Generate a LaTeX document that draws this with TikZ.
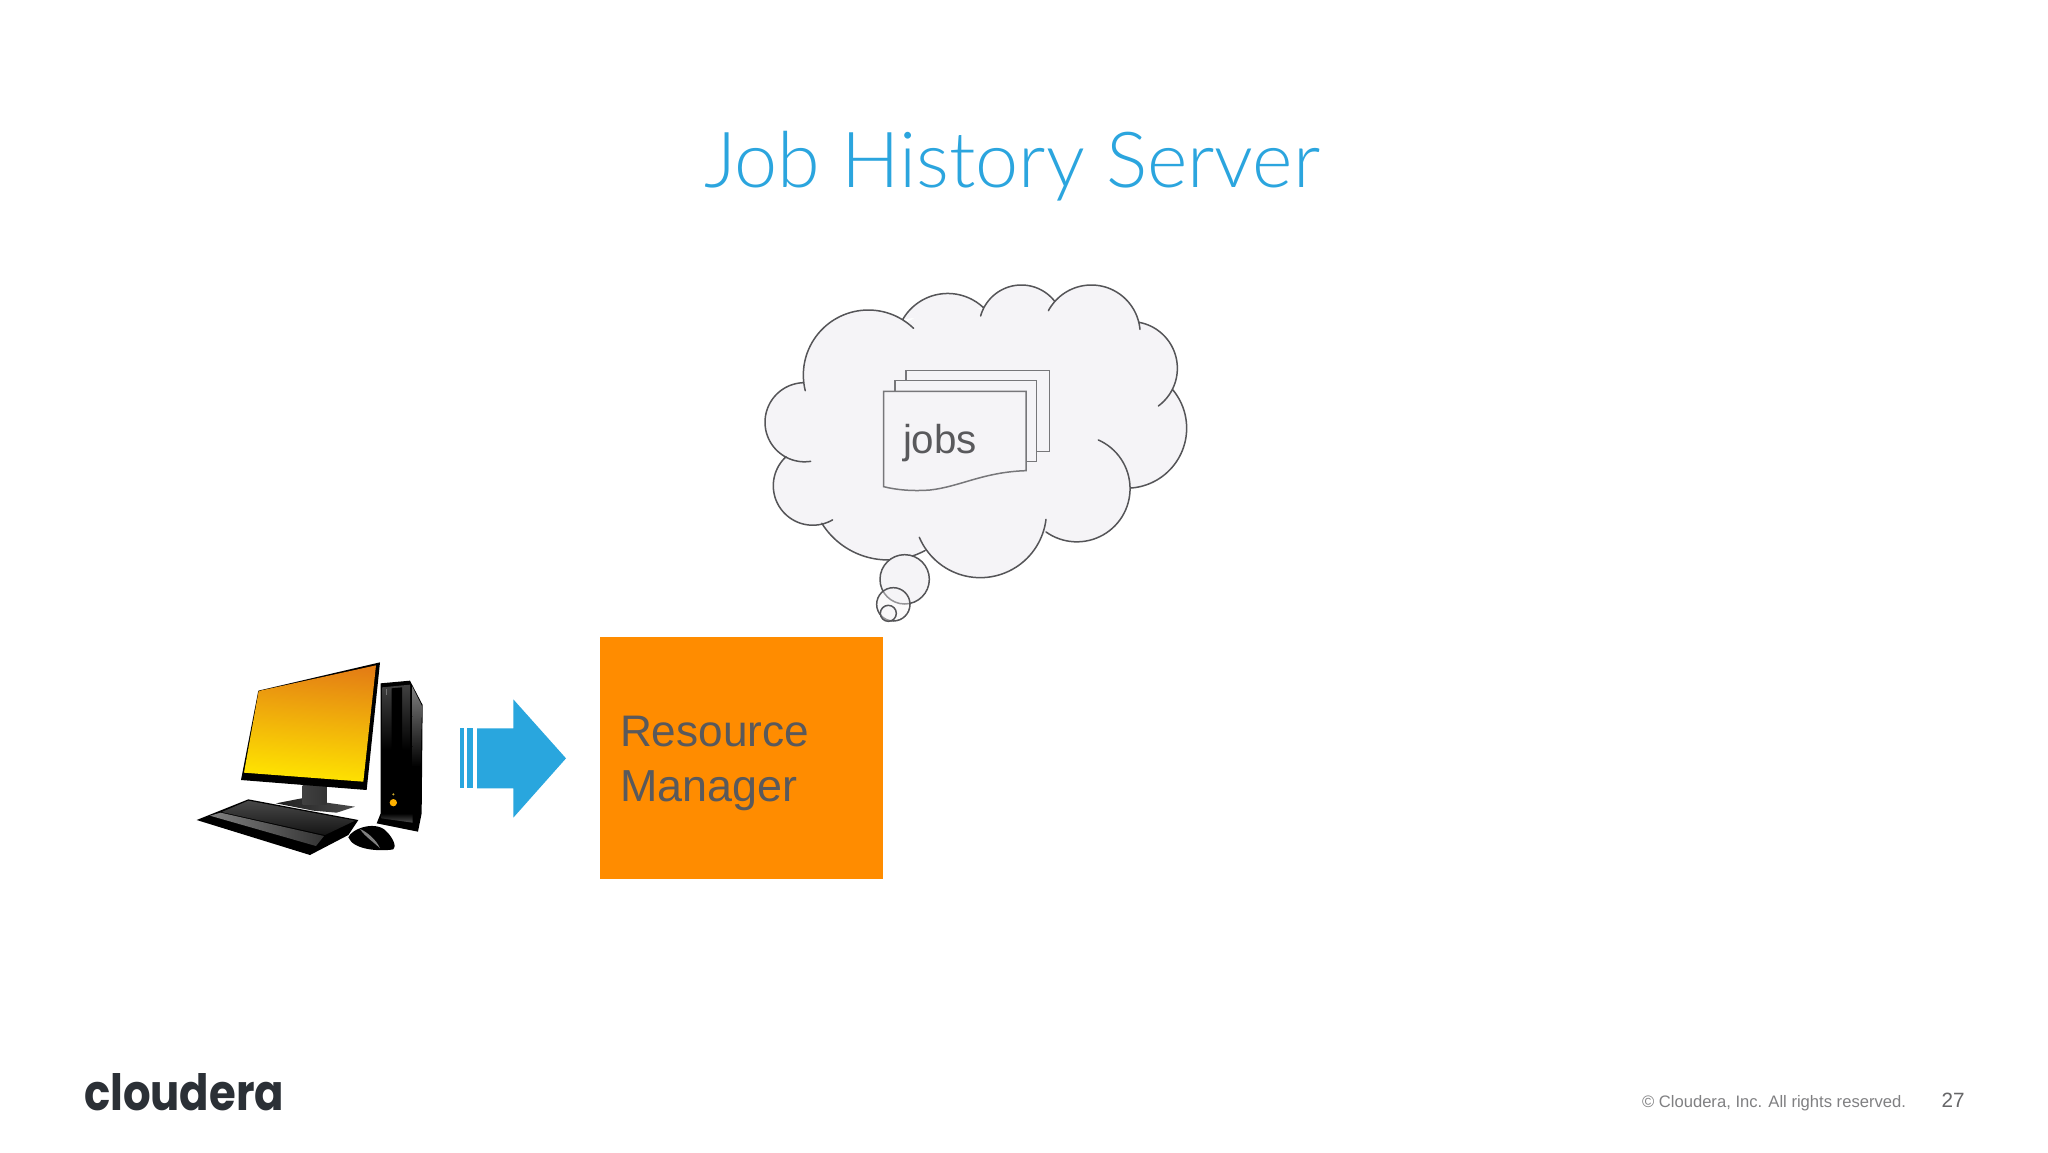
\documentclass[tikz,border=0pt]{standalone}
\usepackage{fontspec}
\usepackage{graphicx}
\setmainfont{Liberation Sans}
\newfontfamily\titlefont{Lato Light}
\newfontfamily\logofont{Poppins}
\definecolor{titleblue}{HTML}{2BA5DE}
\definecolor{arrowblue}{HTML}{29A6DE}
\definecolor{boxorange}{HTML}{FF8C00}
\definecolor{cloudfill}{HTML}{F5F4F7}
\definecolor{cloudline}{HTML}{555558}
\definecolor{pageline}{HTML}{77777A}
\definecolor{textgrey}{HTML}{59595C}
\definecolor{footgrey}{HTML}{808082}
\definecolor{numgrey}{HTML}{666668}
\definecolor{logodark}{HTML}{2B3036}
\definecolor{screentop}{HTML}{E47F14}
\definecolor{screenmid}{HTML}{F5B21A}
\definecolor{screenbot}{HTML}{FFE600}
\tikzset{
  txt/.style={inner sep=0pt,outer sep=0pt,anchor=base west},
  cloudstroke/.style={draw=cloudline,line width=1.5pt,line cap=round,line join=round},
  pagesheet/.style={draw=pageline,fill=cloudfill,line width=1.5pt,line join=miter},
  rmbox/.style={fill=boxorange,inner sep=0pt,outer sep=0pt,minimum width=282.5pt,minimum height=242pt},
  bubble/.style={cloudstroke,fill=cloudfill},
}
\newcommand\lobe[5]{plot[domain=#1:#2,samples=48,smooth] ({#3+#5*cos(\x)},{#4+#5*sin(\x)})}
\newcommand\cloudlobes{
  \lobe{166}{314}{385}{345}{195}
  \lobe{210}{313}{623.3}{256.4}{156}
  \lobe{195.5}{322.7}{844.1}{201.8}{126.8}
  \lobe{208.3}{354.8}{1054.1}{221.4}{146.4}
  \lobe{280.3}{413.6}{1171.8}{325}{140.3}
  \lobe{-40.2}{86.8}{1160}{504.5}{180}
  \lobe{-66.2}{125.5}{1010.6}{685.9}{159.6}
  \lobe{6.8}{157}{720.8}{754.4}{198.6}
  \lobe{61.7}{148}{443.8}{665.8}{234}
  \lobe{59.9}{227.4}{218.3}{677.2}{118.4}
  \lobe{81.1}{268.2}{193.7}{486.7}{118.7}
}
\begin{document}
\begin{tikzpicture}[x=1pt,y=-1pt]
\useasboundingbox (0,0) rectangle (2048,1152);
\fill[white] (0,0) rectangle (2048,1152);
% title
\node[txt,text=titleblue] (title) at (704,187) {\resizebox{616pt}{!}{\titlefont Job History Server}};
% cloud
\begin{scope}[shift={(740,260)},x=0.33333pt,y=-0.33333pt]
  \fill[cloudfill] \cloudlobes;
  \fill[cloudfill] (190,372) -- (290,220) -- (495,190) -- (620,120) -- (730,150) -- (845,95) -- (935,135) -- (1060,95) -- (1195,195) -- (1290,300) -- (1295,395) -- (1320,500) -- (1170,682) -- (1140,760) -- (1000,825) -- (915,820) -- (720,930) -- (545,865) -- (430,880) -- (250,785) -- (125,690) -- (140,590) -- (95,485) -- cycle;
  \draw[cloudstroke] \cloudlobes;
  \draw[bubble] (494,958) circle[radius=74];
  \draw[bubble,fill opacity=.4] (460,1033) circle[radius=50];
  \draw[bubble,fill opacity=.4] (445,1060) circle[radius=24];
  \draw[pagesheet] (498,332) rectangle (928,575);
  \draw[pagesheet] (465,362) rectangle (890,605);
  \draw[pagesheet] (431,394) -- (858,394) -- (858,632) .. controls (730,636) and (660,680) .. (570,690) .. controls (520,694) and (470,690) .. (431,680) -- cycle;
\end{scope}
\node[txt,text=textgrey] (jobs) at (903,453) {\resizebox{74pt}{!}{jobs}};
% computer
\begin{scope}[shift={(190,650)},x=0.33333pt,y=-0.33333pt]
  % stand
  \shade[left color=black!88,right color=black!70] (258,460) -- (340,444) -- (410,458) -- (495,470) -- (440,488) -- (370,482) -- cycle;
  \shade[left color=black!75,middle color=black!45,right color=black!80] (338,405) rectangle (410,464);
  % tower
  \fill[black] (572,100) -- (660,92) -- (698,165) -- (695,490) -- (684,545) -- (560,520) -- (572,490) -- cycle;
  \shade[top color=black!50,bottom color=black] (666,108) -- (696,168) -- (692,350) -- (668,350) -- cycle;
  \shade[top color=black!75,bottom color=black] (576,112) -- (660,104) -- (660,300) -- (576,300) -- cycle;
  \fill[black] (605,115) -- (636,112) -- (636,300) -- (605,300) -- cycle;
  \fill[black!55] (587,118) rectangle (592,135);
  \shade[top color=black,bottom color=black!70] (574,490) -- (668,490) -- (668,518) -- (574,505) -- cycle;
  \fill[black!30!yellow!70!orange] (610,433) circle[radius=3.5];
  \fill[orange!60!yellow] (610,458) circle[radius=11];
  % monitor
  \fill[black] (570,37) -- (205,122) -- (153,390) -- (530,420) -- cycle;
  \shade[top color=screentop,middle color=screenmid,bottom color=screenbot,shading angle=-6] (558,46) -- (206,123) -- (162,368) -- (520,395) -- cycle;
  % keyboard
  \fill[black] (20,510) -- (175,448) -- (505,510) -- (475,555) -- (360,615) -- cycle;
  \shade[top color=black!72,bottom color=black!92] (175,452) -- (495,512) -- (405,555) -- (95,486) -- cycle;
  \shade[left color=black!50,right color=black!80] (60,497) -- (92,488) -- (402,558) -- (378,588) -- cycle;
  % mouse
  \fill[black] (475,562) .. controls (485,535) and (560,510) .. (590,545) .. controls (610,565) and (620,590) .. (610,598) .. controls (570,605) and (490,600) .. (475,562) -- cycle;
  \fill[black!50] (510,537) .. controls (530,545) and (560,570) .. (570,595) .. controls (550,575) and (525,560) .. (510,537) -- cycle;
\end{scope}
% arrow
\begin{scope}[shift={(180,640)},x=0.33333pt,y=-0.33333pt]
  \fill[arrowblue] (841,265) rectangle (852,445);
  \fill[arrowblue] (861,265) rectangle (880,445);
  \fill[arrowblue] (891,265) -- (1000,265) -- (1000,178) -- (1158,355) -- (1000,533) -- (1000,445) -- (891,445) -- cycle;
\end{scope}
% resource manager
\node[rmbox] (rm) at (741.3,758.3) {};
\node[txt,text=textgrey] (rmone) at (620,746) {\resizebox{189pt}{!}{Resource}};
\node[txt,text=textgrey] (rmtwo) at (620,801.5) {\resizebox{177pt}{!}{Manager}};
% footer
\node[txt,text=logodark] (logo) at (84,1110) {\resizebox{200pt}{37pt}{\logofont\bfseries cloudera}};
\node[txt,text=footgrey] (copy) at (1642,1107) {\resizebox{264pt}{!}{© Cloudera, Inc. All rights reserved.}};
\node[txt,text=numgrey] (page) at (1941.5,1107) {\resizebox{23pt}{!}{27}};
\end{tikzpicture}
\end{document}
